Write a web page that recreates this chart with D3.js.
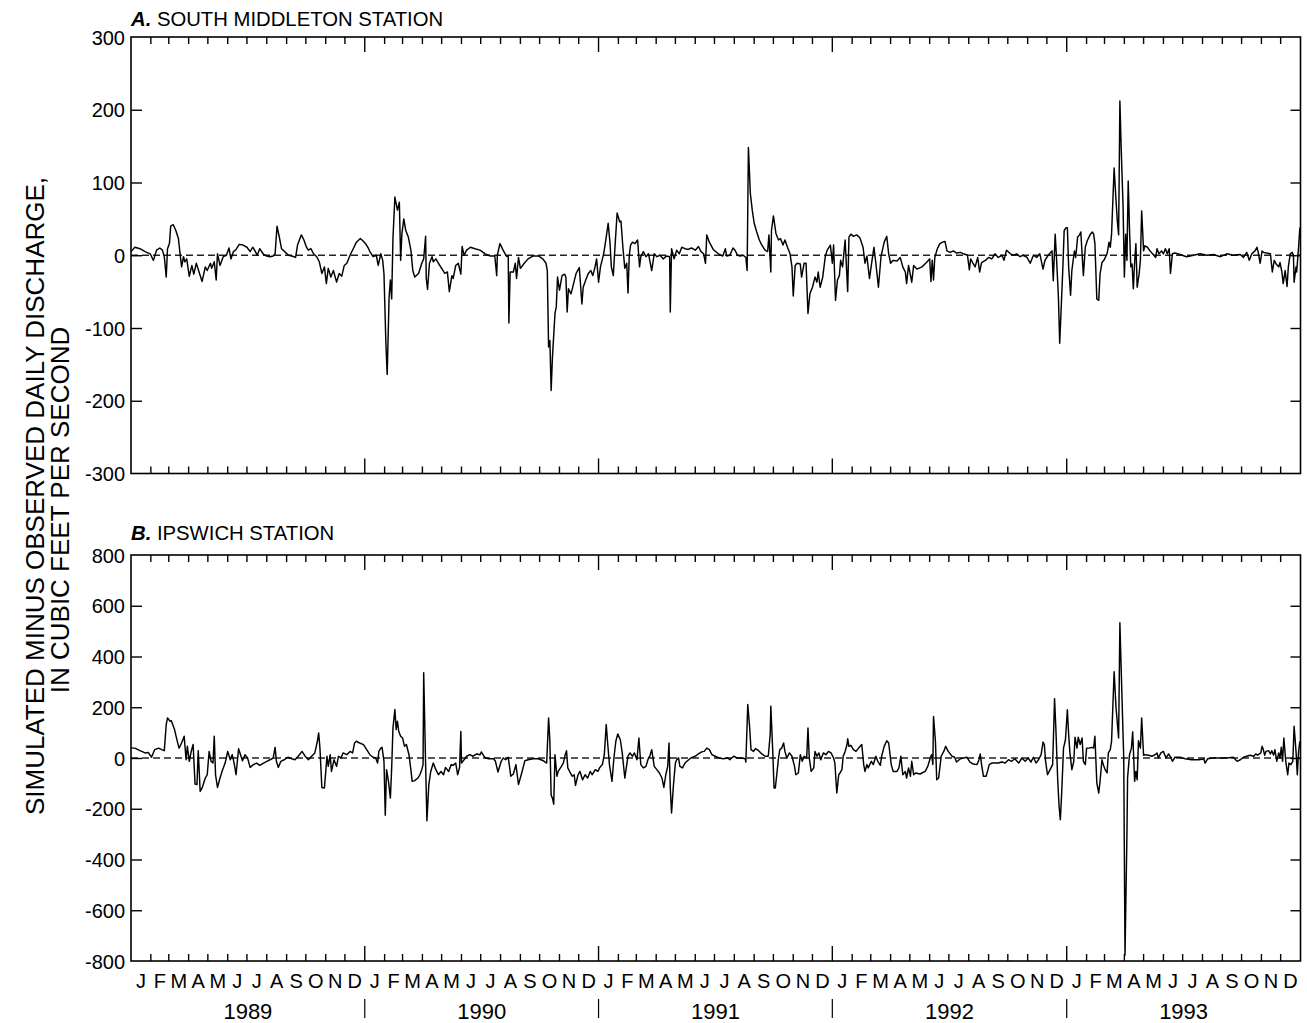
<!DOCTYPE html>
<html>
<head>
<meta charset="utf-8">
<script src="https://cdn.jsdelivr.net/npm/d3@7"></script>
<style>
  html, body { margin: 0; padding: 0; background: #fff; }
  svg { display: block; }
  text { font-family: Arial, "Liberation Sans", sans-serif; fill: #000; }
</style>
</head>
<body>
<svg id="chart" width="1307" height="1023"></svg>
<script>
// Daily discharge residuals (simulated minus observed, ft3/s).
// Each point: [day since 1 Jan 1989, value].
const southMiddleton = [[0,5],[6,11],[14,9],[22,5],[30,2],[35,-7],[40,7],[45,10],[49,7],[52,-2],[55,-30],[57,9],[60,16],[62,40],[66,42],[70,34],[74,23],[76,7],[79,-16],[82,-2],[84,-9],[87,-5],[91,-29],[95,-14],[98,-26],[102,-11],[107,-25],[111,-36],[116,-16],[119,-21],[124,-11],[126,-18],[130,-9],[133,-34],[135,2],[139,-14],[144,-2],[149,0],[153,10],[156,-5],[160,5],[164,8],[169,15],[175,14],[181,11],[186,5],[190,11],[193,7],[197,0],[201,9],[207,1],[212,-1],[217,-2],[222,-1],[225,2],[228,40],[232,23],[235,9],[240,5],[246,0],[251,-1],[257,-3],[260,14],[266,28],[270,21],[274,11],[277,7],[281,9],[285,2],[290,-2],[294,-9],[298,-25],[302,-16],[305,-39],[308,-18],[312,-30],[316,-21],[321,-37],[325,-25],[329,-29],[333,-14],[337,-11],[342,0],[347,9],[352,18],[358,23],[362,20],[367,15],[371,9],[373,5],[378,-2],[383,0],[386,-14],[390,2],[393,-7],[395,-26],[398,-122],[400,-164],[403,-57],[405,-34],[407,-60],[409,23],[412,80],[414,71],[416,62],[419,73],[421,-7],[423,30],[426,50],[429,34],[433,25],[437,7],[440,-21],[443,-30],[449,-25],[454,-11],[457,-5],[460,26],[461,-32],[463,-47],[466,-11],[470,-2],[472,-9],[476,-5],[480,-11],[485,-18],[490,-25],[494,-23],[497,-50],[501,-28],[503,-32],[507,-14],[511,-11],[515,-26],[517,12],[520,0],[524,7],[530,11],[537,9],[545,7],[553,2],[561,-1],[568,-1],[571,-28],[572,0],[576,16],[581,7],[586,-1],[589,-2],[590,-93],[592,-23],[597,-23],[600,-11],[602,-32],[605,-3],[608,-18],[614,-11],[620,-5],[628,-1],[636,-1],[643,-5],[648,-11],[650,-21],[652,-126],[654,-117],[656,-186],[658,-140],[662,-80],[664,-71],[666,-30],[669,-48],[673,-28],[677,-26],[679,-30],[681,-78],[683,-46],[687,-53],[691,-39],[695,-25],[700,-17],[704,-67],[706,-44],[710,-34],[714,-25],[718,-21],[721,-28],[724,-18],[727,-5],[730,-37],[733,-16],[738,2],[742,25],[745,44],[748,16],[750,-16],[753,-28],[756,16],[759,58],[763,46],[765,47],[768,11],[771,-18],[774,-11],[776,-52],[778,0],[780,14],[783,18],[787,16],[791,21],[794,-16],[796,-2],[800,5],[804,-2],[808,2],[813,-21],[817,2],[821,-2],[826,0],[831,-5],[836,-1],[841,-2],[842,-78],[844,9],[848,-5],[852,7],[856,2],[860,11],[865,9],[870,8],[875,10],[881,7],[886,12],[890,5],[894,2],[897,-11],[899,28],[903,18],[909,8],[917,2],[924,-1],[928,9],[930,-1],[935,0],[940,10],[943,7],[947,0],[951,-1],[956,0],[960,-3],[962,-21],[964,148],[967,85],[970,62],[973,44],[977,32],[981,21],[985,14],[990,7],[994,5],[996,28],[999,-23],[1000,34],[1003,54],[1007,30],[1011,21],[1014,23],[1018,14],[1021,21],[1025,11],[1029,2],[1032,-16],[1034,-56],[1037,-14],[1040,-11],[1045,-12],[1047,-30],[1051,-11],[1054,-11],[1057,-80],[1060,-53],[1064,-44],[1068,-30],[1071,-37],[1073,-23],[1076,-44],[1080,-30],[1084,-2],[1087,7],[1092,14],[1095,-11],[1097,14],[1100,-62],[1103,-34],[1106,-28],[1108,-7],[1111,-16],[1115,21],[1119,-50],[1121,25],[1124,29],[1128,26],[1133,28],[1138,24],[1143,11],[1146,-11],[1149,-1],[1153,-32],[1157,-7],[1160,11],[1163,-11],[1167,-44],[1171,-2],[1176,18],[1180,26],[1183,2],[1186,-11],[1190,-7],[1196,-8],[1201,-3],[1205,-16],[1209,-23],[1211,-39],[1214,-14],[1216,-23],[1219,-37],[1222,-14],[1227,-19],[1235,-16],[1242,-10],[1247,-5],[1249,-36],[1251,-7],[1253,-34],[1255,-3],[1259,9],[1263,16],[1267,18],[1271,19],[1274,6],[1279,4],[1284,6],[1289,3],[1295,4],[1300,2],[1306,0],[1309,-20],[1311,-5],[1314,-10],[1318,-16],[1322,-3],[1325,-23],[1328,-10],[1334,-7],[1339,-3],[1344,-5],[1349,2],[1354,-3],[1360,0],[1363,-7],[1367,7],[1373,2],[1378,0],[1383,2],[1388,-2],[1393,0],[1399,-3],[1404,-11],[1409,0],[1414,-3],[1419,2],[1424,-19],[1427,-7],[1432,0],[1438,6],[1440,-35],[1443,29],[1445,-3],[1448,-57],[1450,-121],[1452,-80],[1455,-16],[1457,34],[1460,38],[1462,38],[1464,-16],[1467,-55],[1469,-21],[1473,6],[1475,-3],[1478,25],[1481,28],[1483,32],[1487,-28],[1490,11],[1493,20],[1498,29],[1501,32],[1503,29],[1505,16],[1508,-60],[1511,-62],[1513,-26],[1516,-10],[1519,-7],[1524,2],[1527,18],[1529,11],[1531,29],[1535,120],[1538,75],[1540,47],[1542,28],[1544,212],[1546,148],[1549,66],[1551,-30],[1553,29],[1555,-7],[1557,102],[1559,36],[1561,-16],[1563,-12],[1565,-46],[1567,-10],[1569,16],[1571,-44],[1574,-26],[1576,-7],[1578,61],[1581,6],[1583,13],[1587,11],[1591,6],[1595,2],[1600,-3],[1602,9],[1605,2],[1609,6],[1612,2],[1615,9],[1618,2],[1621,9],[1623,-25],[1626,2],[1630,3],[1638,1],[1648,-2],[1659,0],[1669,2],[1680,0],[1690,1],[1701,-2],[1711,2],[1721,0],[1732,1],[1737,-3],[1742,4],[1746,-7],[1750,2],[1755,6],[1758,11],[1760,4],[1763,-11],[1766,6],[1768,4],[1773,3],[1779,2],[1782,-23],[1785,-7],[1788,-12],[1792,-16],[1794,-10],[1797,-23],[1799,-39],[1802,-21],[1805,-43],[1807,-16],[1810,2],[1813,4],[1815,0],[1816,-37],[1819,-16],[1820,-23],[1823,11],[1825,38]];

const ipswich = [[0,40],[6,39],[14,29],[22,20],[27,22],[32,3],[37,33],[43,39],[48,33],[52,29],[55,132],[57,158],[61,145],[63,147],[68,112],[71,79],[75,39],[79,59],[83,86],[86,-7],[88,46],[91,-13],[94,26],[97,53],[100,-103],[103,-105],[105,29],[108,-132],[111,-118],[116,-79],[119,-66],[122,26],[125,-13],[128,-20],[130,86],[132,-66],[135,-116],[139,-79],[143,-46],[147,-20],[151,26],[155,-7],[158,13],[161,-20],[164,-66],[168,37],[171,13],[174,-11],[178,13],[182,0],[186,-37],[191,-26],[196,-20],[201,-29],[207,-20],[212,-13],[217,-7],[222,0],[225,42],[227,-13],[230,-37],[234,-13],[239,-7],[245,3],[251,-3],[256,-7],[261,7],[267,26],[272,7],[277,-7],[282,7],[287,20],[291,66],[293,99],[295,39],[298,-116],[302,-118],[306,7],[308,-33],[311,13],[313,-53],[317,-7],[321,-33],[324,7],[328,0],[331,20],[337,13],[342,26],[346,20],[349,59],[352,66],[357,59],[363,53],[368,33],[373,13],[378,3],[382,0],[385,-20],[387,26],[390,39],[392,42],[395,-13],[397,-226],[399,-46],[402,-92],[405,-158],[407,-39],[409,118],[412,191],[414,112],[416,145],[418,105],[421,86],[424,79],[427,46],[430,53],[434,13],[437,-46],[439,-92],[443,-89],[448,-79],[451,-66],[454,-46],[456,-26],[457,336],[460,-26],[462,-247],[465,-105],[468,-53],[472,-20],[476,-46],[480,-66],[484,-53],[488,-66],[491,-37],[496,-53],[500,-26],[503,-29],[507,-20],[510,-66],[513,-37],[515,105],[516,-20],[520,-7],[524,7],[529,13],[534,7],[540,16],[545,13],[547,24],[552,3],[558,-3],[566,-3],[569,-13],[573,-55],[578,-13],[581,0],[585,-7],[589,3],[593,-72],[597,-63],[601,-26],[605,-105],[610,-59],[615,-11],[620,-7],[628,-3],[636,-3],[644,-11],[649,-20],[652,158],[654,66],[656,-147],[658,-158],[660,-182],[662,13],[665,-72],[667,-53],[672,-33],[675,-20],[678,13],[680,29],[682,-39],[686,-59],[689,-72],[692,-66],[694,-108],[698,-66],[701,-53],[705,-86],[709,-66],[713,-79],[717,-53],[720,-66],[725,-46],[729,-53],[732,-37],[736,-26],[739,13],[742,132],[744,66],[747,-26],[751,-92],[754,0],[757,66],[760,95],[764,72],[767,20],[771,-79],[776,7],[779,20],[783,7],[786,20],[790,-7],[793,79],[796,-26],[800,-39],[804,-33],[808,0],[810,7],[813,33],[817,-33],[821,-46],[825,-59],[829,-79],[832,-116],[835,-66],[838,-33],[840,59],[842,-118],[844,-217],[847,-105],[850,-20],[852,-7],[855,0],[857,-33],[861,-39],[865,-20],[869,-11],[874,0],[881,7],[886,16],[891,24],[895,26],[899,39],[903,33],[907,13],[912,7],[918,0],[925,-3],[932,0],[935,-7],[941,7],[946,0],[954,0],[959,-3],[960,-16],[963,211],[966,118],[968,33],[972,26],[975,37],[980,29],[985,16],[990,7],[995,7],[998,92],[999,204],[1002,26],[1004,-118],[1006,-118],[1008,-72],[1011,0],[1013,33],[1016,39],[1019,59],[1021,26],[1024,0],[1028,20],[1032,7],[1036,-33],[1038,-66],[1042,-59],[1045,13],[1048,-13],[1051,7],[1055,0],[1057,118],[1059,0],[1062,-53],[1066,-39],[1068,26],[1071,7],[1074,20],[1077,-7],[1081,20],[1085,13],[1089,26],[1093,20],[1097,0],[1099,-20],[1102,-138],[1105,-66],[1107,-59],[1110,-46],[1112,7],[1115,26],[1118,53],[1119,76],[1121,46],[1124,50],[1128,33],[1132,26],[1136,39],[1141,53],[1144,-26],[1146,-53],[1149,-26],[1151,-39],[1156,-13],[1159,-26],[1163,7],[1166,-13],[1170,-29],[1172,7],[1176,46],[1180,68],[1183,59],[1187,-26],[1190,-53],[1196,-53],[1199,-39],[1202,7],[1205,-66],[1209,-53],[1211,-79],[1214,-39],[1217,-72],[1219,-13],[1222,-66],[1225,-59],[1232,-63],[1240,-53],[1244,-33],[1248,0],[1250,13],[1252,-26],[1253,164],[1256,66],[1258,-86],[1261,-79],[1265,7],[1269,26],[1272,46],[1276,26],[1282,7],[1286,3],[1289,-16],[1295,-3],[1300,0],[1305,3],[1310,-16],[1315,-24],[1321,-26],[1324,-7],[1326,16],[1328,-26],[1331,-72],[1335,-72],[1338,-46],[1340,-26],[1344,-20],[1349,-20],[1354,-20],[1360,-16],[1365,-20],[1370,-7],[1375,-13],[1380,-3],[1386,-20],[1391,0],[1396,-13],[1401,0],[1405,-16],[1409,3],[1413,-20],[1417,-7],[1421,13],[1424,63],[1426,53],[1428,-13],[1431,-66],[1435,-46],[1439,-26],[1442,234],[1444,118],[1447,-92],[1449,-187],[1451,-243],[1453,-145],[1456,39],[1459,72],[1462,190],[1464,92],[1466,20],[1469,-46],[1472,-13],[1474,82],[1477,39],[1479,82],[1482,53],[1485,79],[1487,-13],[1490,-26],[1492,39],[1496,39],[1500,42],[1503,39],[1505,86],[1508,-99],[1511,-138],[1513,-92],[1516,-7],[1518,-26],[1521,-46],[1524,-59],[1526,20],[1529,33],[1531,66],[1535,340],[1538,197],[1542,79],[1544,533],[1547,263],[1550,0],[1552,-776],[1555,-303],[1556,-79],[1559,13],[1562,39],[1564,103],[1567,-92],[1569,-53],[1571,-86],[1573,68],[1576,39],[1578,158],[1581,11],[1583,13],[1589,11],[1594,7],[1599,13],[1602,20],[1604,0],[1608,20],[1612,26],[1616,0],[1620,16],[1624,0],[1626,-13],[1630,3],[1638,3],[1646,-3],[1656,-7],[1667,-7],[1675,-4],[1677,-20],[1681,-3],[1690,0],[1701,0],[1711,0],[1721,3],[1727,-13],[1732,-7],[1737,3],[1742,7],[1747,11],[1753,7],[1756,16],[1759,11],[1764,20],[1766,46],[1768,33],[1770,11],[1772,26],[1776,29],[1779,16],[1781,29],[1784,11],[1786,33],[1789,-13],[1792,20],[1794,0],[1796,42],[1798,-13],[1800,79],[1803,-13],[1806,-66],[1808,-20],[1811,-26],[1814,-13],[1816,125],[1819,26],[1821,-66],[1823,26],[1825,66]];

const ticksA = [-300, -200, -100, 0, 100, 200, 300];
const ticksB = [-800, -600, -400, -200, 0, 200, 400, 600, 800];
const monthLetters = ["J","F","M","A","M","J","J","A","S","O","N","D"];
const years = [1989, 1990, 1991, 1992, 1993];
const yAxisTitle = ["SIMULATED MINUS OBSERVED DAILY DISCHARGE,", "IN CUBIC FEET PER SECOND"];

const svg = d3.select("#chart");
const FONT = 20;
const left = 131, right = 1300.5;

const start = new Date(years[0], 0, 1);
const end = new Date(years[years.length - 1] + 1, 0, 1);
const x = d3.scaleTime().domain([start, end]).range([left, right]);
const dayToDate = d => d3.timeDay.offset(start, d);

const months = d3.timeMonth.range(start, end);
const yearStarts = d3.timeYear.range(start, end);

const panels = [
  { data: southMiddleton, top: 37, bottom: 473.5, ticks: ticksA, letter: "A.", name: " SOUTH MIDDLETON STATION", titleY: 26, labels: false },
  { data: ipswich, top: 555, bottom: 961, ticks: ticksB, letter: "B.", name: " IPSWICH STATION", titleY: 540, labels: true }
];

panels.forEach(p => {
  const y = d3.scaleLinear()
    .domain([d3.min(p.ticks), d3.max(p.ticks)])
    .range([p.bottom, p.top]);
  const g = svg.append("g");

  // zero reference line
  g.append("line")
    .attr("x1", left).attr("x2", right)
    .attr("y1", y(0)).attr("y2", y(0))
    .attr("stroke", "#222").attr("stroke-width", 1.4)
    .attr("stroke-dasharray", "7,4");

  // residual series
  const line = d3.line()
    .x(d => x(dayToDate(d[0])))
    .y(d => y(d[1]));
  g.append("path")
    .datum(p.data)
    .attr("d", line)
    .attr("fill", "none")
    .attr("stroke", "#000")
    .attr("stroke-width", 1.45)
    .attr("stroke-linejoin", "round");

  // y axes (labels on the left, inward ticks on both sides)
  const yl = g.append("g").attr("transform", `translate(${left},0)`)
    .call(d3.axisLeft(y).tickValues(p.ticks).tickSizeInner(-11).tickSizeOuter(0).tickPadding(6).tickFormat(d => String(d)));
  yl.select(".domain").remove();
  yl.selectAll(".tick line").attr("stroke", "#000").attr("stroke-width", 1.4);
  yl.selectAll(".tick text").attr("font-size", FONT).attr("font-family", "Arial, 'Liberation Sans', sans-serif").attr("dy", "0.35em");
  yl.selectAll(".tick").filter(d => d === d3.min(p.ticks) || d === d3.max(p.ticks)).select("line").remove();

  const yr = g.append("g").attr("transform", `translate(${right},0)`)
    .call(d3.axisRight(y).tickValues(p.ticks.slice(1, -1)).tickSizeInner(-10).tickSizeOuter(0).tickFormat(""));
  yr.select(".domain").remove();
  yr.selectAll(".tick line").attr("stroke", "#000").attr("stroke-width", 1.4);

  // month ticks (short) and year ticks (long), top and bottom, inward
  [[p.top, 1], [p.bottom, -1]].forEach(([yy, dir]) => {
    g.selectAll(null).data(months.slice(1)).enter().append("line")
      .attr("x1", d => x(d)).attr("x2", d => x(d))
      .attr("y1", yy)
      .attr("y2", d => yy + dir * (d.getMonth() === 0 ? 15 : 7))
      .attr("stroke", "#000").attr("stroke-width", 1.4);
  });

  // frame
  g.append("rect")
    .attr("x", left).attr("y", p.top)
    .attr("width", right - left).attr("height", p.bottom - p.top)
    .attr("fill", "none").attr("stroke", "#000").attr("stroke-width", 1.6);

  // panel title
  const t = g.append("text").attr("x", left).attr("y", p.titleY).attr("font-size", 20.3);
  t.append("tspan").attr("font-weight", "bold").attr("font-style", "italic").text(p.letter);
  t.append("tspan").text(p.name);

  if (p.labels) {
    g.selectAll(null).data(months).enter().append("text")
      .attr("x", d => (x(d) + x(d3.timeMonth.offset(d, 1))) / 2)
      .attr("y", p.bottom + 27)
      .attr("text-anchor", "middle")
      .attr("font-size", FONT)
      .text(d => monthLetters[d.getMonth()]);

    g.selectAll(null).data(yearStarts).enter().append("text")
      .attr("x", d => (x(d) + x(d3.timeYear.offset(d, 1))) / 2)
      .attr("y", p.bottom + 58)
      .attr("text-anchor", "middle")
      .attr("font-size", 22)
      .text(d => d.getFullYear());

    g.selectAll(null).data(yearStarts.slice(1)).enter().append("line")
      .attr("x1", d => x(d)).attr("x2", d => x(d))
      .attr("y1", p.bottom + 38).attr("y2", p.bottom + 57)
      .attr("stroke", "#000").attr("stroke-width", 1.2);
  }
});

// shared y-axis title
const titlePos = [[44, 496], [69, 510]];
yAxisTitle.forEach((s, i) => {
  svg.append("text")
    .attr("transform", `translate(${titlePos[i][0]},${titlePos[i][1]}) rotate(-90)`)
    .attr("text-anchor", "middle")
    .attr("font-size", 26)
    .text(s);
});
</script>
</body>
</html>
